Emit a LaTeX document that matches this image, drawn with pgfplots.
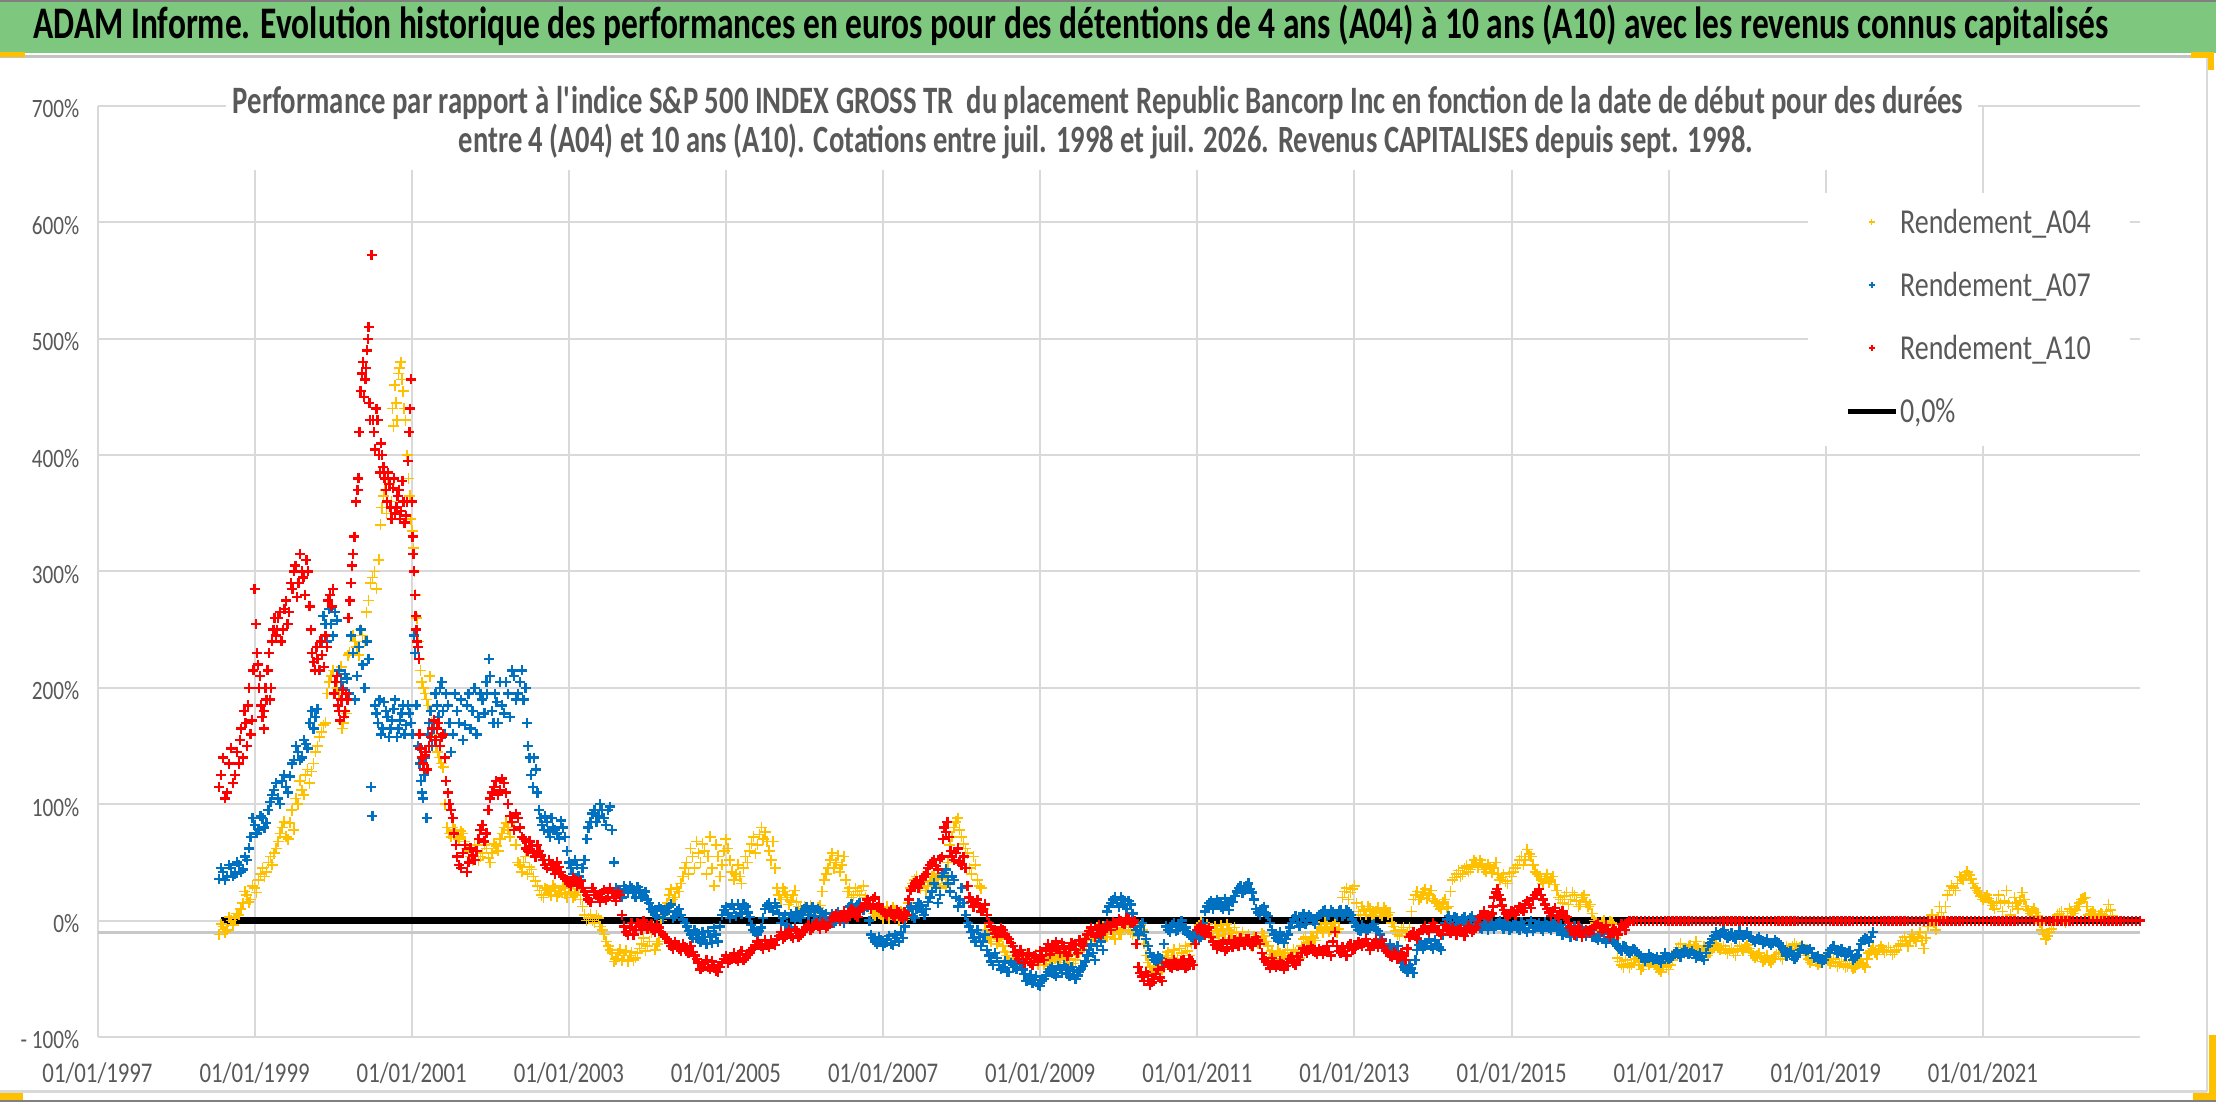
\documentclass[border=0pt]{standalone}
\usepackage{fontspec}
\setmainfont{Carlito}[FakeStretch=0.8]
\usepackage{pgfplots}
\pgfplotsset{compat=1.18}
\definecolor{tgray}{HTML}{595959}
\definecolor{gridc}{HTML}{D9D9D9}
\definecolor{hgreen}{HTML}{7DC87E}
\definecolor{cA04}{HTML}{FFC000}
\definecolor{cA07}{HTML}{0070C0}
\definecolor{cA10}{HTML}{FF0000}
\definecolor{hand}{HTML}{FFC000}
\pgfplotsset{
  markleg/.style={legend image code/.code={\draw[##1, mark size=3pt, mark options={line width=1.8pt}] plot coordinates {(24pt,3pt)};}},
  markleglight/.style={legend image code/.code={\draw[##1, mark size=3pt, mark options={line width=1.3pt}] plot coordinates {(24pt,3pt)};}},
  lineleg/.style={legend image code/.code={\draw[##1] (0pt,3pt) -- (48pt,3pt);}},
}
\begin{document}
\begin{tikzpicture}[x=1pt,y=1pt]
\useasboundingbox (0,0) rectangle (2216,1102);
\fill[white] (0,0) rectangle (2216,1102);
% header band
\fill[hgreen] (0,1049) rectangle (2216,1102);
\draw[gray, line width=2pt] (0,1101) -- (2216,1101);
\draw[gridc!90!black, line width=3pt] (0,1045) -- (2207,1045);
\draw[gridc, line width=2pt] (2207,1045) -- (2207,10);
\draw[gridc, line width=3pt] (0,10) -- (2207,10);
\draw[gray, line width=2pt] (0,1) -- (2216,1);
\node[anchor=base, inner sep=0pt] at (1071,1063) {\scalebox{1}[1.08]{\resizebox{2074pt}{!}{\bfseries ADAM Informe. Evolution historique des performances en euros pour des détentions de 4 ans (A04) à 10 ans (A10) avec les revenus connus capitalisés}}};
\begin{axis}[
  at={(97.5pt,65pt)}, anchor=south west,
  width=2042.5pt, height=931pt, scale only axis,
  xmin=1997, xmax=2023, ymin=-100, ymax=700,
  axis line style={draw=none},
  major tick length=0pt,
  scaled x ticks=false, scaled y ticks=false,
  xtick={1997,1999,2001,2003,2005,2007,2009,2011,2013,2015,2017,2019,2021},
  xticklabels={01/01/1997,01/01/1999,01/01/2001,01/01/2003,01/01/2005,01/01/2007,01/01/2009,01/01/2011,01/01/2013,01/01/2015,01/01/2017,01/01/2019,01/01/2021},
  ytick={-100,0,100,200,300,400,500,600,700},
  yticklabels={- 100\%,0\%,100\%,200\%,300\%,400\%,500\%,600\%,700\%},
  xmajorgrids, ymajorgrids,
  grid style={draw=gridc, line width=2pt},
  xticklabel style={font=\fontsize{28.5}{31}\selectfont, text=tgray, anchor=center, yshift=-36pt},
  yticklabel style={font=\fontsize{26.5}{29}\selectfont, text=tgray, anchor=east, inner sep=0pt, xshift=-18pt, yshift=-3pt},
  legend style={at={(0.8374,0.9066)}, anchor=north west, fill=white, draw=none,
    font=\fontsize{35}{40}\selectfont, text=tgray, inner xsep=37pt, inner ysep=14pt, row sep=27pt,
    nodes={inner sep=2pt, text height=24pt, text depth=8pt}},
  legend cell align=left,
]
\addplot[forget plot, draw={rgb,255:red,200;green,200;blue,200}, line width=2.5pt] coordinates {(1997,-10) (2023,-10)};
\addplot[forget plot, black, line width=6.5pt] coordinates {(1998.57,0) (2023,0)};
% A04
\addplot[only marks, mark=+, color=cA04, mark size=5.5pt, mark options={line width=1.6pt}, markleglight]
coordinates {
(1998.55,-12)(1998.60,-5)(1998.65,-8)(1998.70,0)(1998.75,2)(1998.80,5)(1998.85,15)(1998.90,22)(1998.95,18)(1999.00,28)
(1999.05,35)(1999.10,45)(1999.15,42)(1999.20,55)(1999.25,58)(1999.30,68)(1999.35,80)(1999.40,72)(1999.45,84)(1999.50,78)
(1999.55,100)(1999.60,112)(1999.65,125)(1999.70,118)(1999.75,135)(1999.80,150)(1999.85,162)(1999.90,170)(1999.95,205)(2000.00,215)
(2000.05,200)(2000.10,218)(2000.13,170)(2000.17,178)(2000.21,230)(2000.25,245)(2000.30,235)(2000.35,250)(2000.40,240)(2000.45,275)
(2000.50,295)(2000.55,285)(2000.58,310)(2000.62,355)(2000.66,370)(2000.70,380)(2000.74,360)(2000.77,425)(2000.80,445)(2000.83,470)
(2000.86,480)(2000.89,455)(2000.92,430)(2000.96,380)(2000.99,345)(2001.02,320)(2001.05,280)(2001.08,240)(2001.11,215)(2001.15,200)
(2001.19,190)(2001.23,210)(2001.27,165)(2001.31,150)(2001.35,140)(2001.40,132)(2001.45,80)(2001.50,72)(2001.55,78)(2001.60,70)
(2001.65,75)(2001.70,62)(2001.75,55)(2001.80,65)(2001.85,52)(2001.90,58)(2001.95,62)(2002.00,50)(2002.05,66)(2002.10,60)
(2002.15,75)(2002.20,84)(2002.25,72)(2002.30,80)(2002.35,50)(2002.40,42)(2002.45,55)(2002.50,46)(2002.55,38)(2002.60,30)
(2002.65,22)(2002.70,28)(2002.75,25)(2002.80,30)(2002.85,21)(2002.90,26)(2002.95,23)(2003.00,28)(2003.05,20)(2003.10,24)
(2003.15,18)(2003.20,5)(2003.25,2)(2003.30,0)(2003.35,4)(2003.40,-5)(2003.45,-12)(2003.50,-22)(2003.55,-28)(2003.60,-33)
(2003.65,-25)(2003.70,-30)(2003.75,-35)(2003.80,-27)(2003.85,-32)(2003.90,-24)(2003.95,-15)(2004.00,-22)(2004.05,-10)(2004.10,-25)
(2004.15,-18)(2004.20,5)(2004.25,15)(2004.30,27)(2004.35,20)(2004.40,25)(2004.45,38)(2004.50,50)(2004.55,62)(2004.60,45)
(2004.65,58)(2004.70,66)(2004.75,40)(2004.80,72)(2004.85,30)(2004.90,55)(2004.95,48)(2005.00,70)(2005.05,52)(2005.10,35)
(2005.15,48)(2005.20,32)(2005.25,55)(2005.30,60)(2005.35,72)(2005.40,65)(2005.45,80)(2005.50,76)(2005.55,60)(2005.60,68)
(2005.65,28)(2005.70,18)(2005.75,25)(2005.80,14)(2005.85,22)(2005.90,16)(2005.95,10)(2006.00,12)(2006.05,8)(2006.10,11)
(2006.15,7)(2006.20,13)(2006.25,35)(2006.30,45)(2006.35,58)(2006.40,50)(2006.45,42)(2006.50,55)(2006.55,25)(2006.60,20)
(2006.65,28)(2006.70,22)(2006.75,30)(2006.80,18)(2006.85,10)(2006.90,4)(2006.95,8)(2007.00,2)(2007.05,12)(2007.10,5)
(2007.15,9)(2007.20,0)(2007.25,6)(2007.30,3)(2007.35,28)(2007.40,35)(2007.45,30)(2007.50,38)(2007.55,26)(2007.60,34)
(2007.65,40)(2007.70,32)(2007.75,36)(2007.80,30)(2007.85,65)(2007.90,80)(2007.95,88)(2008.00,72)(2008.05,62)(2008.10,45)
(2008.15,55)(2008.20,35)(2008.25,28)(2008.30,-8)(2008.35,-15)(2008.40,-10)(2008.45,-20)(2008.50,-14)(2008.55,-27)(2008.60,-34)
(2008.65,-30)(2008.70,-38)(2008.75,-28)(2008.80,-35)(2008.85,-31)(2008.90,-37)(2008.95,-29)(2009.00,-34)(2009.05,-38)(2009.10,-30)
(2009.15,-35)(2009.20,-28)(2009.25,-36)(2009.30,-32)(2009.35,-38)(2009.40,-30)(2009.45,-34)(2009.50,-27)(2009.55,-20)(2009.60,-15)
(2009.65,-8)(2009.70,-18)(2009.75,-12)(2009.80,-5)(2009.85,-14)(2009.90,-8)(2009.95,-16)(2010.00,-10)(2010.05,-6)(2010.10,-2)
(2010.15,-10)(2010.20,-5)(2010.25,-13)(2010.30,-8)(2010.35,-30)(2010.40,-40)(2010.45,-45)(2010.50,-38)(2010.55,-42)(2010.60,-30)
(2010.65,-36)(2010.70,-25)(2010.75,-33)(2010.80,-28)(2010.85,-22)(2010.90,-30)(2010.95,-16)(2011.00,-8)(2011.05,-2)(2011.10,-12)
(2011.15,-6)(2011.20,-15)(2011.25,-9)(2011.30,-4)(2011.35,-12)(2011.40,-8)(2011.45,-15)(2011.50,-10)(2011.55,-14)(2011.60,-20)
(2011.65,-12)(2011.70,-22)(2011.75,-16)(2011.80,-19)(2011.85,-13)(2011.90,-22)(2011.95,-26)(2012.00,-33)(2012.05,-28)(2012.10,-31)
(2012.15,-25)(2012.20,-30)(2012.25,-27)(2012.30,-32)(2012.35,-16)(2012.40,-19)(2012.45,-14)(2012.50,-17)(2012.55,-5)(2012.60,-10)
(2012.65,-3)(2012.70,-8)(2012.75,-2)(2012.80,-7)(2012.85,20)(2012.90,28)(2012.95,24)(2013.00,30)(2013.05,8)(2013.10,12)
(2013.15,5)(2013.20,10)(2013.25,6)(2013.30,11)(2013.35,4)(2013.40,9)(2013.45,7)(2013.50,-5)(2013.55,-12)(2013.60,-8)
(2013.65,-13)(2013.70,-6)(2013.75,18)(2013.80,25)(2013.85,20)(2013.90,27)(2013.95,22)(2014.00,19)(2014.05,15)(2014.10,10)
(2014.15,18)(2014.20,12)(2014.25,35)(2014.30,40)(2014.35,38)(2014.40,45)(2014.45,42)(2014.50,48)(2014.55,50)(2014.60,52)
(2014.65,44)(2014.70,48)(2014.75,41)(2014.80,50)(2014.85,35)(2014.90,40)(2014.95,32)(2015.00,38)(2015.05,45)(2015.10,52)
(2015.15,48)(2015.20,61)(2015.25,55)(2015.30,42)(2015.35,38)(2015.40,32)(2015.45,40)(2015.50,35)(2015.55,31)(2015.60,20)
(2015.65,15)(2015.70,24)(2015.75,18)(2015.80,22)(2015.85,12)(2015.90,20)(2015.95,16)(2016.00,14)(2016.05,0)(2016.10,-4)
(2016.15,-2)(2016.20,-5)(2016.25,-1)(2016.30,-3)(2016.35,-32)(2016.40,-38)(2016.45,-34)(2016.50,-40)(2016.55,-36)(2016.60,-31)
(2016.65,-42)(2016.70,-35)(2016.75,-38)(2016.80,-33)(2016.85,-40)(2016.90,-44)(2016.95,-36)(2017.00,-42)(2017.05,-34)(2017.10,-26)
(2017.15,-20)(2017.20,-28)(2017.25,-22)(2017.30,-25)(2017.35,-18)(2017.40,-28)(2017.45,-22)(2017.50,-30)(2017.55,-24)(2017.60,-20)
(2017.65,-25)(2017.70,-22)(2017.75,-28)(2017.80,-24)(2017.85,-30)(2017.90,-22)(2017.95,-26)(2018.00,-21)(2018.05,-27)(2018.10,-32)
(2018.15,-28)(2018.20,-35)(2018.25,-30)(2018.30,-36)(2018.35,-31)(2018.40,-28)(2018.45,-33)(2018.50,-22)(2018.55,-25)(2018.60,-20)
(2018.65,-24)(2018.70,-21)(2018.75,-30)(2018.80,-36)(2018.85,-32)(2018.90,-38)(2018.95,-34)(2019.00,-31)(2019.05,-37)(2019.10,-33)
(2019.15,-39)(2019.20,-35)(2019.25,-40)(2019.30,-37)(2019.35,-41)(2019.40,-38)(2019.45,-36)(2019.50,-40)(2019.55,-28)(2019.60,-24)
(2019.65,-29)(2019.70,-22)(2019.75,-27)(2019.80,-23)(2019.85,-29)(2019.90,-25)(2019.95,-20)(2020.00,-14)(2020.05,-22)(2020.10,-12)
(2020.15,-18)(2020.20,-10)(2020.25,-24)(2020.30,-5)(2020.35,5)(2020.40,-8)(2020.45,12)(2020.50,2)(2020.55,22)(2020.60,30)
(2020.65,26)(2020.70,38)(2020.75,35)(2020.80,42)(2020.85,36)(2020.90,28)(2020.95,24)(2021.00,18)(2021.05,22)(2021.10,16)
(2021.15,10)(2021.20,22)(2021.25,8)(2021.30,26)(2021.35,5)(2021.40,20)(2021.45,10)(2021.50,24)(2021.55,12)(2021.60,6)
(2021.65,10)(2021.70,4)(2021.75,-8)(2021.80,-16)(2021.85,-10)(2021.90,-4)(2021.95,5)(2022.00,8)(2022.05,-2)(2022.10,10)
(2022.15,6)(2022.20,12)(2022.25,18)(2022.30,20)(2022.35,5)(2022.40,8)(2022.45,2)(2022.50,6)(2022.55,3)(2022.60,14)(2022.65,4)
(1998.575,-3)(1998.625,-10)(1998.675,3)(1998.725,-4)(1998.775,6)(1998.825,10)(1998.875,25)(1998.925,16)(1998.975,30)(1999.025,24)
(1999.075,40)(1999.125,38)(1999.175,50)(1999.225,48)(1999.275,62)(1999.325,75)(1999.375,85)(1999.425,70)(1999.475,95)(1999.525,105)
(1999.575,120)(1999.625,108)(1999.675,130)(1999.725,128)(1999.775,145)(1999.825,158)(1999.875,168)(1999.925,195)(1999.975,210)(2000.025,205)
(2000.075,195)(2000.115,165)(2000.19,228)(2000.275,240)(2000.325,228)(2000.375,245)(2000.425,265)(2000.475,290)(2000.525,300)(2000.60,340)
(2000.64,365)(2000.68,350)(2000.72,375)(2000.755,440)(2000.785,460)(2000.815,430)(2000.845,475)(2000.875,465)(2000.905,440)(2000.94,400)
(2000.975,365)(2001.005,335)(2001.035,300)(2001.065,260)(2001.095,225)(2001.13,205)(2001.17,195)(2001.21,185)(2001.25,170)(2001.29,160)
(2001.33,145)(2001.375,135)(2001.425,100)(2001.475,75)(2001.525,80)(2001.575,72)(2001.625,77)(2001.675,68)(2001.725,60)(2001.775,52)
(2001.825,60)(2001.875,55)(2001.925,65)(2001.975,54)(2002.025,58)(2002.075,64)(2002.125,70)(2002.175,80)(2002.225,78)(2002.275,85)
(2002.325,65)(2002.375,48)(2002.425,50)(2002.475,40)(2002.525,44)(2002.575,34)(2002.625,26)(2002.675,20)(2002.725,27)(2002.775,22)
(2002.825,28)(2002.875,24)(2002.925,30)(2002.975,20)(2003.025,25)(2003.075,22)(2003.125,27)(2003.175,12)(2003.225,0)(2003.275,5)
(2003.325,-2)(2003.375,2)(2003.425,-8)(2003.475,-18)(2003.525,-25)(2003.575,-35)(2003.625,-28)(2003.675,-34)(2003.725,-26)(2003.775,-30)
(2003.825,-34)(2003.875,-28)(2003.925,-20)(2003.975,-26)
(2004.025,-18)(2004.075,-5)(2004.125,-20)(2004.175,0)(2004.225,10)(2004.275,22)(2004.325,18)(2004.375,28)(2004.425,32)(2004.475,45)
(2004.525,40)(2004.575,55)(2004.625,68)(2004.675,50)(2004.725,60)(2004.775,55)(2004.825,45)(2004.875,65)(2004.925,38)(2004.975,60)
(2005.025,62)(2005.075,42)(2005.125,40)(2005.175,38)(2005.225,45)(2005.275,50)(2005.325,66)(2005.375,58)(2005.425,74)(2005.475,70)
(2005.525,68)(2005.575,52)(2005.625,45)(2005.675,22)(2005.725,28)(2005.775,20)(2005.825,17)(2005.875,26)(2005.925,12)(2005.975,8)
(2006.025,10)(2006.075,13)(2006.125,9)(2006.175,11)(2006.225,25)(2006.275,40)(2006.325,52)(2006.375,45)(2006.425,56)(2006.475,48)
(2006.525,35)(2006.575,28)(2006.625,22)(2006.675,25)(2006.725,26)(2006.775,20)(2006.825,14)(2006.875,6)(2006.925,10)(2006.975,5)
(2007.025,8)(2007.075,2)(2007.125,11)(2007.175,4)(2007.225,8)(2007.275,1)(2007.325,15)(2007.375,32)(2007.425,38)(2007.475,28)
(2007.525,33)(2007.575,30)(2007.625,38)(2007.675,36)(2007.725,28)(2007.775,40)(2007.825,50)(2007.875,72)(2007.925,85)(2007.975,78)
(2008.025,66)(2008.075,58)(2008.125,40)(2008.175,48)(2008.225,30)(2008.275,10)(2008.325,-12)(2008.375,-18)(2008.425,-12)(2008.475,-16)
(2008.525,-22)(2008.575,-30)(2008.625,-36)(2008.675,-33)(2008.725,-30)(2008.775,-37)(2008.825,-29)(2008.875,-35)(2008.925,-32)(2008.975,-38)
(2009.025,-30)(2009.075,-35)(2009.125,-37)(2009.175,-31)(2009.225,-34)(2009.275,-29)(2009.325,-36)(2009.375,-33)(2009.425,-37)(2009.475,-29)
(2009.525,-24)(2009.575,-17)(2009.625,-12)(2009.675,-14)(2009.725,-6)(2009.775,-16)(2009.825,-10)(2009.875,-5)(2009.925,-12)(2009.975,-7)
(2010.025,-12)(2010.075,-4)(2010.125,-8)(2010.175,-12)(2010.225,-9)(2010.275,-4)(2010.325,-20)(2010.375,-36)(2010.425,-43)(2010.475,-40)
(2010.525,-44)(2010.575,-34)(2010.625,-27)(2010.675,-32)(2010.725,-37)(2010.775,-24)(2010.825,-30)(2010.875,-26)(2010.925,-20)(2010.975,-12)
(2011.025,-4)(2011.075,-9)(2011.125,-3)(2011.175,-11)(2011.225,-5)(2011.275,-13)(2011.325,-7)(2011.375,-3)(2011.425,-11)(2011.475,-6)
(2011.525,-16)(2011.575,-10)(2011.625,-17)(2011.675,-21)(2011.725,-14)(2011.775,-20)(2011.825,-11)(2011.875,-18)(2011.925,-29)(2011.975,-31)
(2012.025,-26)(2012.075,-33)(2012.125,-28)(2012.175,-32)(2012.225,-25)(2012.275,-30)(2012.325,-22)(2012.375,-14)(2012.425,-18)(2012.475,-15)
(2012.525,-10)(2012.575,-7)(2012.625,-2)(2012.675,-9)(2012.725,-5)(2012.775,-10)(2012.825,8)(2012.875,25)(2012.925,18)(2012.975,27)
(2013.025,15)(2013.075,5)(2013.125,9)(2013.175,12)(2013.225,4)(2013.275,8)(2013.325,6)(2013.375,11)(2013.425,5)(2013.475,-2)
(2013.525,-9)(2013.575,-13)(2013.625,-6)(2013.675,-10)(2013.725,8)(2013.775,22)(2013.825,18)(2013.875,24)(2013.925,19)(2013.975,26)
(2014.025,17)(2014.075,12)(2014.125,16)(2014.175,11)(2014.225,25)(2014.275,37)(2014.325,43)(2014.375,40)(2014.425,47)(2014.475,44)
(2014.525,52)(2014.575,46)(2014.625,49)(2014.675,42)(2014.725,46)(2014.775,45)(2014.825,40)(2014.875,37)(2014.925,34)(2014.975,41)
(2015.025,42)(2015.075,48)(2015.125,55)(2015.175,52)(2015.225,57)(2015.275,48)(2015.325,40)(2015.375,35)(2015.425,36)(2015.475,33)
(2015.525,38)(2015.575,26)(2015.625,18)(2015.675,21)(2015.725,14)(2015.775,24)(2015.825,17)(2015.875,14)(2015.925,22)(2015.975,12)
(2016.025,6)(2016.075,-2)(2016.125,-5)(2016.175,0)(2016.225,-4)(2016.275,-2)(2016.325,-15)(2016.375,-35)(2016.425,-40)(2016.475,-37)
(2016.525,-38)(2016.575,-33)(2016.625,-38)(2016.675,-39)(2016.725,-33)(2016.775,-36)(2016.825,-37)(2016.875,-42)(2016.925,-39)(2016.975,-40)
(2017.025,-38)(2017.075,-30)(2017.125,-23)(2017.175,-25)(2017.225,-24)(2017.275,-21)(2017.325,-23)(2017.375,-24)(2017.425,-26)(2017.475,-25)
(2017.525,-27)(2017.575,-21)(2017.625,-23)(2017.675,-24)(2017.725,-25)(2017.775,-26)(2017.825,-27)(2017.875,-25)(2017.925,-24)(2017.975,-23)
(2018.025,-24)(2018.075,-30)(2018.125,-30)(2018.175,-32)(2018.225,-33)(2018.275,-34)(2018.325,-33)(2018.375,-29)(2018.425,-31)(2018.475,-27)
(2018.525,-24)(2018.575,-22)(2018.625,-22)(2018.675,-23)(2018.725,-26)(2018.775,-33)(2018.825,-34)(2018.875,-35)(2018.925,-36)(2018.975,-32)
(2019.025,-34)(2019.075,-35)(2019.125,-36)(2019.175,-37)(2019.225,-38)(2019.275,-39)(2019.325,-39)(2019.375,-40)(2019.425,-37)(2019.475,-38)
(2019.525,-33)(2019.575,-26)(2019.625,-27)(2019.675,-25)(2019.725,-25)(2019.775,-26)(2019.825,-26)(2019.875,-27)(2019.925,-22)(2019.975,-17)
(2020.025,-18)(2020.075,-17)(2020.125,-15)(2020.175,-14)(2020.225,-17)(2020.275,-15)(2020.325,0)(2020.375,-2)(2020.425,2)(2020.475,7)
(2020.525,12)(2020.575,26)(2020.625,28)(2020.675,32)(2020.725,37)(2020.775,39)(2020.825,39)(2020.875,32)(2020.925,26)(2020.975,21)
(2021.025,20)(2021.075,19)(2021.125,13)(2021.175,16)(2021.225,15)(2021.275,17)(2021.325,15)(2021.375,12)(2021.425,15)(2021.475,17)
(2021.525,18)(2021.575,9)(2021.625,8)(2021.675,7)(2021.725,-2)(2021.775,-12)(2021.825,-13)(2021.875,-7)(2021.925,0)(2021.975,6)
(2022.025,3)(2022.075,4)(2022.125,8)(2022.175,9)(2022.225,15)(2022.275,19)(2022.325,12)(2022.375,6)(2022.425,5)(2022.475,4)
(2022.525,5)(2022.575,8)(2022.625,9)
};
\addlegendentry{Rendement\_A04}
% A07
\addplot[only marks, mark=+, color=cA07, mark size=5pt, mark options={line width=2.4pt}, markleg]
coordinates {
(1998.55,36)(1998.60,42)(1998.65,38)(1998.70,45)(1998.75,40)(1998.80,48)(1998.85,44)(1998.90,52)(1998.95,72)(1999.00,82)
(1999.05,78)(1999.10,88)(1999.15,84)(1999.20,102)(1999.25,112)(1999.30,105)(1999.35,120)(1999.40,115)(1999.45,124)(1999.50,138)
(1999.55,145)(1999.60,140)(1999.65,152)(1999.70,170)(1999.75,165)(1999.80,182)(1999.85,240)(1999.90,255)(1999.95,268)(2000.00,245)
(2000.05,258)(2000.10,205)(2000.15,212)(2000.20,195)(2000.25,230)(2000.30,210)(2000.35,250)(2000.40,200)(2000.45,225)(2000.48,115)
(2000.50,90)(2000.53,185)(2000.57,170)(2000.61,160)(2000.65,188)(2000.69,175)(2000.73,165)(2000.77,182)(2000.81,158)(2000.85,172)
(2000.89,185)(2000.93,168)(2000.97,178)(2001.01,160)(2001.03,245)(2001.06,185)(2001.10,135)(2001.13,110)(2001.16,125)(2001.19,88)
(2001.22,170)(2001.26,150)(2001.30,195)(2001.34,175)(2001.38,205)(2001.42,160)(2001.46,185)(2001.50,145)(2001.55,195)(2001.60,170)
(2001.65,155)(2001.70,185)(2001.75,165)(2001.80,200)(2001.85,175)(2001.90,190)(2001.95,205)(2001.98,225)(2002.02,180)(2002.06,195)
(2002.10,170)(2002.15,185)(2002.20,205)(2002.25,175)(2002.30,210)(2002.35,195)(2002.40,215)(2002.45,200)(2002.48,150)(2002.52,125)
(2002.56,140)(2002.60,110)(2002.64,88)(2002.68,78)(2002.72,85)(2002.76,72)(2002.80,80)(2002.85,75)(2002.90,86)(2002.95,72)
(2003.00,50)(2003.05,40)(2003.10,48)(2003.15,35)(2003.20,52)(2003.25,80)(2003.30,92)(2003.35,85)(2003.40,100)(2003.45,88)
(2003.50,95)(2003.55,78)(2003.60,28)(2003.65,22)(2003.70,30)(2003.75,24)(2003.80,28)(2003.85,20)(2003.90,26)(2003.95,22)
(2004.00,18)(2004.05,10)(2004.10,5)(2004.15,12)(2004.20,2)(2004.25,8)(2004.30,14)(2004.35,4)(2004.40,10)(2004.45,1)
(2004.50,-5)(2004.55,-12)(2004.60,-8)(2004.65,-16)(2004.70,-10)(2004.75,-20)(2004.80,-14)(2004.85,-6)(2004.90,-18)(2004.95,5)
(2005.00,12)(2005.05,2)(2005.10,10)(2005.15,14)(2005.20,6)(2005.25,12)(2005.30,3)(2005.35,-8)(2005.40,-12)(2005.45,-6)
(2005.50,10)(2005.55,15)(2005.60,8)(2005.65,12)(2005.70,-2)(2005.75,5)(2005.80,-6)(2005.85,3)(2005.90,7)(2005.95,2)
(2006.00,10)(2006.05,5)(2006.10,12)(2006.15,0)(2006.20,8)(2006.25,3)(2006.30,-3)(2006.35,6)(2006.40,0)(2006.45,4)
(2006.50,-2)(2006.55,8)(2006.60,14)(2006.65,10)(2006.70,15)(2006.75,9)(2006.80,12)(2006.85,-12)(2006.90,-18)(2006.95,-14)
(2007.00,-22)(2007.05,-16)(2007.10,-20)(2007.15,-12)(2007.20,-18)(2007.25,-15)(2007.30,5)(2007.35,12)(2007.40,2)(2007.45,15)
(2007.50,8)(2007.55,10)(2007.60,20)(2007.65,32)(2007.70,15)(2007.75,38)(2007.80,44)(2007.85,25)(2007.90,35)(2007.95,12)
(2008.00,28)(2008.05,5)(2008.10,-5)(2008.15,-15)(2008.20,-8)(2008.25,-22)(2008.30,-12)(2008.35,-30)(2008.40,-38)(2008.45,-32)
(2008.50,-42)(2008.55,-35)(2008.60,-44)(2008.65,-38)(2008.70,-42)(2008.75,-36)(2008.80,-46)(2008.85,-50)(2008.90,-54)(2008.95,-48)
(2009.00,-56)(2009.05,-50)(2009.10,-44)(2009.15,-40)(2009.20,-48)(2009.25,-42)(2009.30,-38)(2009.35,-46)(2009.40,-40)(2009.45,-50)
(2009.50,-44)(2009.55,-39)(2009.60,-30)(2009.65,-20)(2009.70,-34)(2009.75,-15)(2009.80,-25)(2009.85,8)(2009.90,15)(2009.95,20)
(2010.00,12)(2010.05,18)(2010.10,10)(2010.15,14)(2010.20,-5)(2010.25,-12)(2010.30,-2)(2010.35,-16)(2010.40,-28)(2010.45,-34)
(2010.50,-30)(2010.55,-36)(2010.60,-5)(2010.65,-10)(2010.70,-2)(2010.75,-8)(2010.80,0)(2010.85,-6)(2010.90,-12)(2010.95,-16)
(2011.00,-10)(2011.05,-14)(2011.10,8)(2011.15,15)(2011.20,10)(2011.25,18)(2011.30,12)(2011.35,19)(2011.40,9)(2011.45,16)
(2011.50,25)(2011.55,30)(2011.60,26)(2011.65,32)(2011.70,24)(2011.75,10)(2011.80,5)(2011.85,12)(2011.90,4)(2011.95,-8)
(2012.00,-15)(2012.05,-10)(2012.10,-19)(2012.15,-12)(2012.20,-2)(2012.25,4)(2012.30,-5)(2012.35,6)(2012.40,0)(2012.45,3)
(2012.50,-3)(2012.55,5)(2012.60,8)(2012.65,4)(2012.70,9)(2012.75,6)(2012.80,8)(2012.85,4)(2012.90,9)(2012.95,5)
(2013.00,-2)(2013.05,-8)(2013.10,-4)(2013.15,-10)(2013.20,-6)(2013.25,-3)(2013.30,-9)(2013.35,-16)(2013.40,-24)(2013.45,-20)
(2013.50,-28)(2013.55,-22)(2013.60,-36)(2013.65,-42)(2013.70,-38)(2013.75,-45)(2013.80,-25)(2013.85,-18)(2013.90,-22)(2013.95,-16)
(2014.00,-24)(2014.05,-20)(2014.10,-25)(2014.15,-2)(2014.20,4)(2014.25,-5)(2014.30,2)(2014.35,-3)(2014.40,3)(2014.45,-4)
(2014.50,4)(2014.55,0)(2014.60,-6)(2014.65,-2)(2014.70,-8)(2014.75,-1)(2014.80,-5)(2014.85,0)(2014.90,-7)(2014.95,-3)
(2015.00,-6)(2015.05,-2)(2015.10,-8)(2015.15,-4)(2015.20,-10)(2015.25,0)(2015.30,-6)(2015.35,-2)(2015.40,-9)(2015.45,-4)
(2015.50,-8)(2015.55,-1)(2015.60,-6)(2015.65,-12)(2015.70,-8)(2015.75,-14)(2015.80,-5)(2015.85,-10)(2015.90,-7)(2015.95,-13)
(2016.00,-9)(2016.05,-12)(2016.10,-17)(2016.15,-10)(2016.20,-19)(2016.25,-14)(2016.30,-18)(2016.35,-22)(2016.40,-26)(2016.45,-23)
(2016.50,-28)(2016.55,-24)(2016.60,-27)(2016.65,-30)(2016.70,-35)(2016.75,-29)(2016.80,-34)(2016.85,-31)(2016.90,-36)(2016.95,-28)
(2017.00,-33)(2017.05,-30)(2017.10,-27)(2017.15,-31)(2017.20,-25)(2017.25,-29)(2017.30,-26)(2017.35,-32)(2017.40,-28)(2017.45,-34)
(2017.50,-22)(2017.55,-16)(2017.60,-10)(2017.65,-14)(2017.70,-8)(2017.75,-15)(2017.80,-11)(2017.85,-16)(2017.90,-9)(2017.95,-14)
(2018.00,-10)(2018.05,-15)(2018.10,-18)(2018.15,-14)(2018.20,-20)(2018.25,-16)(2018.30,-21)(2018.35,-17)(2018.40,-19)(2018.45,-24)
(2018.50,-30)(2018.55,-26)(2018.60,-33)(2018.65,-28)(2018.70,-22)(2018.75,-26)(2018.80,-24)(2018.85,-32)(2018.90,-30)(2018.95,-36)
(2019.00,-31)(2019.05,-25)(2019.10,-22)(2019.15,-28)(2019.20,-24)(2019.25,-30)(2019.30,-26)(2019.35,-34)(2019.40,-30)(2019.45,-20)
(2019.50,-15)(2019.55,-18)(2019.60,-10)
(1998.575,45)(1998.625,35)(1998.675,48)(1998.725,38)(1998.775,50)(1998.825,42)(1998.875,55)(1998.925,62)(1998.975,88)(1999.025,75)
(1999.075,90)(1999.125,80)(1999.175,95)(1999.225,108)(1999.275,118)(1999.325,100)(1999.375,125)(1999.425,110)(1999.475,135)(1999.525,150)
(1999.575,138)(1999.625,155)(1999.675,148)(1999.725,180)(1999.775,175)(1999.825,215)(1999.875,262)(1999.925,240)(1999.975,255)(2000.025,265)
(2000.075,215)(2000.125,200)(2000.175,208)(2000.225,245)(2000.275,190)(2000.325,235)(2000.375,220)(2000.425,240)(2000.55,178)(2000.59,190)
(2000.63,165)(2000.67,180)(2000.71,158)(2000.75,172)(2000.79,190)(2000.83,165)(2000.87,178)(2000.91,160)(2000.95,185)(2000.99,170)
(2001.045,230)(2001.08,150)(2001.115,120)(2001.145,105)(2001.175,140)(2001.205,160)(2001.24,180)(2001.28,165)(2001.32,185)(2001.36,200)
(2001.40,180)(2001.44,195)(2001.48,170)(2001.525,160)(2001.575,180)(2001.625,190)(2001.675,168)(2001.725,195)(2001.775,180)(2001.825,160)
(2001.875,195)(2001.925,178)(2001.96,195)(2002.00,210)(2002.04,170)(2002.08,188)(2002.125,205)(2002.175,178)(2002.225,195)(2002.275,215)
(2002.325,190)(2002.375,205)(2002.425,190)(2002.465,170)(2002.50,140)(2002.54,115)(2002.58,130)(2002.62,95)(2002.66,82)(2002.70,90)
(2002.74,76)(2002.78,88)(2002.825,78)(2002.875,70)(2002.925,80)(2002.975,60)(2003.025,45)(2003.075,52)(2003.125,38)(2003.175,45)
(2003.225,70)(2003.275,85)(2003.325,95)(2003.375,90)(2003.425,95)(2003.475,82)(2003.525,98)(2003.575,50)(2003.625,26)(2003.675,20)
(2003.725,27)(2003.775,30)(2003.825,24)(2003.875,29)(2003.925,20)(2003.975,25)
(2004.025,15)(2004.075,8)(2004.125,3)(2004.175,10)(2004.225,6)(2004.275,12)(2004.325,2)(2004.375,8)(2004.425,5)(2004.475,-2)
(2004.525,-9)(2004.575,-15)(2004.625,-11)(2004.675,-18)(2004.725,-14)(2004.775,-9)(2004.825,-19)(2004.875,-12)(2004.925,-5)(2004.975,9)
(2005.025,6)(2005.075,14)(2005.125,4)(2005.175,10)(2005.225,14)(2005.275,7)(2005.325,-4)(2005.375,-10)(2005.425,-9)(2005.475,2)
(2005.525,13)(2005.575,11)(2005.625,15)(2005.675,6)(2005.725,2)(2005.775,-4)(2005.825,6)(2005.875,0)(2005.925,4)(2005.975,8)
(2006.025,12)(2006.075,8)(2006.125,4)(2006.175,10)(2006.225,1)(2006.275,6)(2006.325,3)(2006.375,-2)(2006.425,7)(2006.475,1)
(2006.525,4)(2006.575,12)(2006.625,8)(2006.675,13)(2006.725,11)(2006.775,15)(2006.825,0)(2006.875,-15)(2006.925,-20)(2006.975,-17)
(2007.025,-19)(2007.075,-13)(2007.125,-21)(2007.175,-15)(2007.225,-10)(2007.275,-5)(2007.325,9)(2007.375,4)(2007.425,10)(2007.475,13)
(2007.525,5)(2007.575,16)(2007.625,25)(2007.675,28)(2007.725,22)(2007.775,41)(2007.825,32)(2007.875,38)(2007.925,20)(2007.975,18)
(2008.025,15)(2008.075,-2)(2008.125,-10)(2008.175,-18)(2008.225,-14)(2008.275,-18)(2008.325,-25)(2008.375,-35)(2008.425,-28)(2008.475,-38)
(2008.525,-40)(2008.575,-44)(2008.625,-36)(2008.675,-40)(2008.725,-34)(2008.775,-42)(2008.825,-52)(2008.875,-47)(2008.925,-51)(2008.975,-55)
(2009.025,-52)(2009.075,-47)(2009.125,-42)(2009.175,-46)(2009.225,-39)(2009.275,-45)(2009.325,-41)(2009.375,-48)(2009.425,-43)(2009.475,-47)
(2009.525,-41)(2009.575,-35)(2009.625,-25)(2009.675,-28)(2009.725,-22)(2009.775,-18)(2009.825,-5)(2009.875,12)(2009.925,18)(2009.975,15)
(2010.025,20)(2010.075,14)(2010.125,17)(2010.175,6)(2010.225,-8)(2010.275,-5)(2010.325,-10)(2010.375,-22)(2010.425,-31)(2010.475,-35)
(2010.525,-32)(2010.575,-20)(2010.625,-8)(2010.675,-4)(2010.725,-9)(2010.775,-3)(2010.825,-8)(2010.875,-10)(2010.925,-14)(2010.975,-12)
(2011.025,-16)(2011.075,-2)(2011.125,12)(2011.175,17)(2011.225,13)(2011.275,16)(2011.325,10)(2011.375,14)(2011.425,18)(2011.475,21)
(2011.525,28)(2011.575,24)(2011.625,30)(2011.675,27)(2011.725,18)(2011.775,7)(2011.825,10)(2011.875,6)(2011.925,-2)(2011.975,-12)
(2012.025,-17)(2012.075,-13)(2012.125,-16)(2012.175,-6)(2012.225,1)(2012.275,-2)(2012.325,3)(2012.375,-3)(2012.425,5)(2012.475,0)
(2012.525,2)(2012.575,6)(2012.625,9)(2012.675,5)(2012.725,7)(2012.775,4)(2012.825,9)(2012.875,6)(2012.925,7)(2012.975,1)
(2013.025,-5)(2013.075,-9)(2013.125,-6)(2013.175,-8)(2013.225,-4)(2013.275,-7)(2013.325,-12)(2013.375,-20)(2013.425,-27)(2013.475,-24)
(2013.525,-26)(2013.575,-32)(2013.625,-40)(2013.675,-44)(2013.725,-41)(2013.775,-34)(2013.825,-21)(2013.875,-24)(2013.925,-19)(2013.975,-22)
(2014.025,-17)(2014.075,-23)(2014.125,-12)(2014.175,1)(2014.225,-3)(2014.275,3)(2014.325,-4)(2014.375,1)(2014.425,-1)(2014.475,2)
(2014.525,-3)(2014.575,-4)(2014.625,-7)(2014.675,-4)(2014.725,-3)(2014.775,-7)(2014.825,-2)(2014.875,-5)(2014.925,-1)(2014.975,-8)
(2015.025,-4)(2015.075,-6)(2015.125,-1)(2015.175,-7)(2015.225,-4)(2015.275,-9)(2015.325,-4)(2015.375,-7)(2015.425,-1)(2015.475,-6)
(2015.525,-3)(2015.575,-9)(2015.625,-4)(2015.675,-10)(2015.725,-11)(2015.775,-8)(2015.825,-13)(2015.875,-6)(2015.925,-11)(2015.975,-10)
(2016.025,-14)(2016.075,-15)(2016.125,-12)(2016.175,-16)(2016.225,-11)(2016.275,-17)(2016.325,-20)(2016.375,-24)(2016.425,-22)(2016.475,-26)
(2016.525,-26)(2016.575,-25)(2016.625,-29)(2016.675,-32)(2016.725,-32)(2016.775,-31)(2016.825,-33)(2016.875,-34)(2016.925,-32)(2016.975,-31)
(2017.025,-32)(2017.075,-29)(2017.125,-29)(2017.175,-28)(2017.225,-27)(2017.275,-28)(2017.325,-29)(2017.375,-30)(2017.425,-31)(2017.475,-28)
(2017.525,-19)(2017.575,-13)(2017.625,-12)(2017.675,-11)(2017.725,-12)(2017.775,-13)(2017.825,-14)(2017.875,-12)(2017.925,-12)(2017.975,-12)
(2018.025,-13)(2018.075,-17)(2018.125,-16)(2018.175,-17)(2018.225,-18)(2018.275,-19)(2018.325,-19)(2018.375,-18)(2018.425,-22)(2018.475,-27)
(2018.525,-28)(2018.575,-30)(2018.625,-31)(2018.675,-25)(2018.725,-24)(2018.775,-25)(2018.825,-28)(2018.875,-31)(2018.925,-33)(2018.975,-34)
(2019.025,-28)(2019.075,-24)(2019.125,-25)(2019.175,-26)(2019.225,-27)(2019.275,-28)(2019.325,-30)(2019.375,-32)(2019.425,-25)(2019.475,-17)
(2019.525,-16)(2019.575,-14)
};
\addlegendentry{Rendement\_A07}
% A10
\addplot[only marks, mark=+, color=cA10, mark size=5pt, mark options={line width=2.4pt}, markleg]
coordinates {
(1998.55,115)(1998.60,140)(1998.65,110)(1998.70,148)(1998.75,125)(1998.80,135)(1998.83,165)(1998.87,180)(1998.90,150)(1998.93,200)
(1998.97,172)(1999.00,285)(1999.02,255)(1999.04,220)(1999.07,210)(1999.10,175)(1999.12,165)(1999.15,190)(1999.18,230)(1999.21,200)
(1999.24,250)(1999.27,245)(1999.30,260)(1999.34,240)(1999.38,268)(1999.42,255)(1999.46,290)(1999.50,300)(1999.54,278)(1999.58,315)
(1999.62,295)(1999.66,310)(1999.70,270)(1999.73,230)(1999.77,215)(1999.80,225)(1999.84,240)(1999.88,218)(1999.92,235)(1999.96,280)
(2000.00,285)(2000.03,205)(2000.06,185)(2000.09,172)(2000.12,198)(2000.15,180)(2000.18,190)(2000.21,275)(2000.24,305)(2000.27,330)
(2000.29,360)(2000.32,380)(2000.35,455)(2000.38,480)(2000.41,465)(2000.43,490)(2000.45,510)(2000.47,430)(2000.49,572)(2000.52,420)
(2000.55,440)(2000.58,400)(2000.61,410)(2000.64,390)(2000.67,370)(2000.70,385)(2000.73,355)(2000.76,372)(2000.79,350)(2000.82,365)
(2000.85,345)(2000.88,378)(2000.91,342)(2000.94,360)(2000.97,420)(2000.99,465)(2001.01,330)(2001.03,300)(2001.05,262)(2001.07,240)
(2001.09,225)(2001.11,148)(2001.14,135)(2001.17,142)(2001.20,130)(2001.24,158)(2001.28,172)(2001.32,165)(2001.36,150)(2001.40,160)
(2001.44,120)(2001.48,100)(2001.52,88)(2001.56,65)(2001.60,48)(2001.65,58)(2001.70,42)(2001.75,62)(2001.80,52)(2001.85,70)
(2001.90,82)(2001.95,75)(2002.00,105)(2002.05,115)(2002.10,108)(2002.15,122)(2002.20,110)(2002.25,90)(2002.30,78)(2002.35,88)
(2002.40,72)(2002.45,62)(2002.50,68)(2002.55,58)(2002.60,65)(2002.65,56)(2002.70,48)(2002.75,52)(2002.80,44)(2002.85,50)
(2002.90,42)(2002.95,36)(2003.00,32)(2003.05,37)(2003.10,30)(2003.15,34)(2003.20,25)(2003.25,18)(2003.30,28)(2003.35,22)
(2003.40,16)(2003.45,26)(2003.50,20)(2003.55,24)(2003.60,17)(2003.65,22)(2003.70,-5)(2003.75,-12)(2003.80,-2)(2003.85,-8)
(2003.90,-4)(2003.95,0)(2004.00,-7)(2004.05,-3)(2004.10,-10)(2004.15,-6)(2004.20,-12)(2004.25,-16)(2004.30,-22)(2004.35,-18)
(2004.40,-24)(2004.45,-20)(2004.50,-26)(2004.55,-22)(2004.60,-30)(2004.65,-36)(2004.70,-40)(2004.75,-34)(2004.80,-42)(2004.85,-38)
(2004.90,-44)(2004.95,-36)(2005.00,-30)(2005.05,-34)(2005.10,-28)(2005.15,-35)(2005.20,-26)(2005.25,-32)(2005.30,-27)(2005.35,-24)
(2005.40,-18)(2005.45,-22)(2005.50,-17)(2005.55,-23)(2005.60,-19)(2005.65,-16)(2005.70,-10)(2005.75,-14)(2005.80,-8)(2005.85,-15)
(2005.90,-9)(2005.95,-12)(2006.00,-8)(2006.05,-4)(2006.10,-6)(2006.15,-2)(2006.20,-7)(2006.25,-3)(2006.30,-5)(2006.35,2)
(2006.40,6)(2006.45,0)(2006.50,8)(2006.55,3)(2006.60,10)(2006.65,5)(2006.70,9)(2006.75,12)(2006.80,18)(2006.85,10)
(2006.90,20)(2006.95,14)(2007.00,8)(2007.05,4)(2007.10,9)(2007.15,2)(2007.20,7)(2007.25,1)(2007.30,5)(2007.35,26)
(2007.40,32)(2007.45,28)(2007.50,35)(2007.55,40)(2007.60,48)(2007.65,52)(2007.70,44)(2007.75,55)(2007.78,80)(2007.82,85)
(2007.86,60)(2007.90,52)(2007.95,62)(2008.00,48)(2008.05,45)(2008.10,20)(2008.15,12)(2008.20,18)(2008.25,8)(2008.30,14)
(2008.35,-2)(2008.40,-8)(2008.45,-14)(2008.50,-6)(2008.55,-12)(2008.60,-16)(2008.65,-22)(2008.70,-30)(2008.75,-25)(2008.80,-36)
(2008.85,-28)(2008.90,-38)(2008.95,-32)(2009.00,-26)(2009.05,-34)(2009.10,-20)(2009.15,-26)(2009.20,-18)(2009.25,-28)(2009.30,-22)
(2009.35,-30)(2009.40,-19)(2009.45,-25)(2009.50,-17)(2009.55,-22)(2009.60,-12)(2009.65,-6)(2009.70,-14)(2009.75,-4)(2009.80,-10)
(2009.85,-3)(2009.90,-8)(2009.95,-2)(2010.00,1)(2010.05,-2)(2010.10,2)(2010.15,-1)(2010.20,0)(2010.25,-40)(2010.30,-48)
(2010.35,-44)(2010.40,-55)(2010.45,-50)(2010.50,-42)(2010.55,-52)(2010.60,-36)(2010.65,-40)(2010.70,-34)(2010.75,-39)(2010.80,-35)
(2010.85,-41)(2010.90,-33)(2010.95,-38)(2011.00,-8)(2011.05,-4)(2011.10,-12)(2011.15,-6)(2011.20,-18)(2011.25,-24)(2011.30,-20)
(2011.35,-26)(2011.40,-17)(2011.45,-23)(2011.50,-19)(2011.55,-15)(2011.60,-21)(2011.65,-16)(2011.70,-22)(2011.75,-14)(2011.80,-20)
(2011.85,-33)(2011.90,-38)(2011.95,-32)(2012.00,-40)(2012.05,-35)(2012.10,-42)(2012.15,-36)(2012.20,-31)(2012.25,-38)(2012.30,-34)
(2012.35,-24)(2012.40,-28)(2012.45,-22)(2012.50,-27)(2012.55,-24)(2012.60,-29)(2012.65,-22)(2012.70,-30)(2012.75,-10)(2012.80,-26)
(2012.85,-23)(2012.90,-30)(2012.95,-20)(2013.00,-24)(2013.05,-18)(2013.10,-22)(2013.15,-16)(2013.20,-25)(2013.25,-19)(2013.30,-23)
(2013.35,-17)(2013.40,-26)(2013.45,-30)(2013.50,-27)(2013.55,-33)(2013.60,-28)(2013.65,-34)(2013.70,-14)(2013.75,-10)(2013.80,-16)
(2013.85,-8)(2013.90,-5)(2013.95,-10)(2014.00,-2)(2014.05,-8)(2014.10,-12)(2014.15,-4)(2014.20,-9)(2014.25,-6)(2014.30,-12)
(2014.35,-7)(2014.40,-13)(2014.45,-5)(2014.50,-10)(2014.55,-6)(2014.60,3)(2014.65,8)(2014.70,2)(2014.75,6)(2014.78,20)
(2014.82,27)(2014.86,18)(2014.90,9)(2014.95,4)(2015.00,8)(2015.05,5)(2015.10,12)(2015.15,8)(2015.20,17)(2015.25,11)
(2015.30,22)(2015.35,27)(2015.40,18)(2015.45,10)(2015.50,4)(2015.55,11)(2015.60,2)(2015.65,8)(2015.70,3)(2015.75,-6)
(2015.80,-12)(2015.85,-5)(2015.90,-14)(2015.95,-8)(2016.00,-11)(2016.05,-5)(2016.10,-2)(2016.15,-10)(2016.20,-4)(2016.25,-14)
(2016.30,-7)(2016.35,-12)(2016.40,-3)(2016.45,-8)
(2016.50,0)(2016.55,0)(2016.60,0)(2016.65,0)(2016.70,0)(2016.75,0)(2016.80,0)(2016.85,0)(2016.90,0)(2016.95,0)
(2017.00,0)(2017.05,0)(2017.10,0)(2017.15,0)(2017.20,0)(2017.25,0)(2017.30,0)(2017.35,0)(2017.40,0)(2017.45,0)
(2017.50,0)(2017.55,0)(2017.60,0)(2017.65,0)(2017.70,0)(2017.75,0)(2017.80,0)(2017.85,0)(2017.90,0)(2017.95,0)
(2018.00,0)(2018.05,0)(2018.10,0)(2018.15,0)(2018.20,0)(2018.25,0)(2018.30,0)(2018.35,0)(2018.40,0)(2018.45,0)
(2018.50,0)(2018.55,0)(2018.60,0)(2018.65,0)(2018.70,0)(2018.75,0)(2018.80,0)(2018.85,0)(2018.90,0)(2018.95,0)
(2019.00,0)(2019.05,0)(2019.10,0)(2019.15,0)(2019.20,0)(2019.25,0)(2019.30,0)(2019.35,0)(2019.40,0)(2019.45,0)
(2019.50,0)(2019.55,0)(2019.60,0)(2019.65,0)(2019.70,0)(2019.75,0)(2019.80,0)(2019.85,0)(2019.90,0)(2019.95,0)
(2020.00,0)(2020.05,0)(2020.10,0)(2020.15,0)(2020.20,0)(2020.25,0)(2020.30,0)(2020.35,0)(2020.40,0)(2020.45,0)
(2020.50,0)(2020.55,0)(2020.60,0)(2020.65,0)(2020.70,0)(2020.75,0)(2020.80,0)(2020.85,0)(2020.90,0)(2020.95,0)
(2021.00,0)(2021.05,0)(2021.10,0)(2021.15,0)(2021.20,0)(2021.25,0)(2021.30,0)(2021.35,0)(2021.40,0)(2021.45,0)
(2021.50,0)(2021.55,0)(2021.60,0)(2021.65,0)(2021.70,0)(2021.75,0)(2021.80,0)(2021.85,0)(2021.90,0)(2021.95,0)
(2022.00,0)(2022.05,0)(2022.10,0)(2022.15,0)(2022.20,0)(2022.25,0)(2022.30,0)(2022.35,0)(2022.40,0)(2022.45,0)
(2022.50,0)(2022.55,0)(2022.60,0)(2022.65,0)(2022.70,0)(2022.75,0)(2022.80,0)(2022.85,0)(2022.90,0)(2022.95,0)(2023.00,0)
(1998.575,125)(1998.625,105)(1998.675,135)(1998.725,118)(1998.775,145)(1998.815,155)(1998.85,140)(1998.885,170)(1998.915,185)(1998.95,160)
(1998.985,215)(1999.03,230)(1999.055,200)(1999.085,185)(1999.115,180)(1999.14,200)(1999.165,215)(1999.195,190)(1999.225,240)(1999.255,260)
(1999.285,250)(1999.32,265)(1999.36,250)(1999.40,275)(1999.44,265)(1999.48,285)(1999.52,305)(1999.56,290)(1999.60,300)(1999.64,280)
(1999.68,300)(1999.715,250)(1999.75,222)(1999.79,235)(1999.82,215)(1999.86,228)(1999.90,245)(1999.94,275)(1999.98,270)(2000.015,195)
(2000.045,210)(2000.075,180)(2000.105,190)(2000.135,175)(2000.165,195)(2000.195,260)(2000.225,290)(2000.255,315)(2000.31,370)(2000.335,420)
(2000.365,470)(2000.395,450)(2000.42,475)(2000.44,500)(2000.46,445)(2000.505,430)(2000.535,405)(2000.565,430)(2000.595,385)(2000.625,400)
(2000.655,380)(2000.685,360)(2000.715,375)(2000.745,345)(2000.775,380)(2000.805,355)(2000.835,370)(2000.865,352)(2000.895,360)(2000.925,348)
(2000.955,395)(2000.98,440)(2001.00,360)(2001.02,315)(2001.04,280)(2001.06,250)(2001.08,235)(2001.10,160)(2001.125,140)(2001.155,130)
(2001.185,145)(2001.22,150)(2001.26,165)(2001.30,155)(2001.34,170)(2001.38,158)(2001.42,140)(2001.46,110)(2001.50,95)(2001.54,75)
(2001.58,55)(2001.625,45)(2001.675,65)(2001.725,50)(2001.775,56)(2001.825,60)(2001.875,78)(2001.925,68)(2001.975,95)(2002.025,110)
(2002.075,120)(2002.125,112)(2002.175,118)(2002.225,100)(2002.275,85)(2002.325,92)(2002.375,80)(2002.425,70)(2002.475,60)(2002.525,64)
(2002.575,55)(2002.625,60)(2002.675,52)(2002.725,45)(2002.775,48)(2002.825,40)(2002.875,46)(2002.925,38)(2002.975,34)(2003.025,30)
(2003.075,35)(2003.125,32)(2003.175,28)(2003.225,22)(2003.275,16)(2003.325,25)(2003.375,20)(2003.425,24)(2003.475,18)(2003.525,28)
(2003.575,20)(2003.625,25)(2003.675,5)(2003.725,-10)(2003.775,-6)(2003.825,-12)(2003.875,-2)(2003.925,-8)(2003.975,-5)
(2004.025,-5)(2004.075,-8)(2004.125,-4)(2004.175,-10)(2004.225,-14)(2004.275,-19)(2004.325,-24)(2004.375,-21)(2004.425,-26)(2004.475,-23)
(2004.525,-28)(2004.575,-27)(2004.625,-33)(2004.675,-42)(2004.725,-37)(2004.775,-40)(2004.825,-35)(2004.875,-43)(2004.925,-40)(2004.975,-33)
(2005.025,-36)(2005.075,-31)(2005.125,-33)(2005.175,-29)(2005.225,-34)(2005.275,-29)(2005.325,-25)(2005.375,-21)(2005.425,-20)(2005.475,-24)
(2005.525,-20)(2005.575,-17)(2005.625,-21)(2005.675,-13)(2005.725,-16)(2005.775,-11)(2005.825,-13)(2005.875,-7)(2005.925,-14)(2005.975,-10)
(2006.025,-6)(2006.075,-8)(2006.125,-4)(2006.175,-5)(2006.225,-1)(2006.275,-6)(2006.325,-1)(2006.375,4)(2006.425,3)(2006.475,5)
(2006.525,1)(2006.575,7)(2006.625,8)(2006.675,3)(2006.725,11)(2006.775,15)(2006.825,14)(2006.875,19)(2006.925,12)(2006.975,10)
(2007.025,6)(2007.075,7)(2007.125,4)(2007.175,9)(2007.225,3)(2007.275,7)(2007.325,18)(2007.375,30)(2007.425,34)(2007.475,32)
(2007.525,38)(2007.575,45)(2007.625,50)(2007.675,47)(2007.725,53)(2007.765,70)(2007.80,76)(2007.84,72)(2007.88,55)(2007.925,58)
(2007.975,50)(2008.025,55)(2008.075,30)(2008.125,16)(2008.175,15)(2008.225,12)(2008.275,10)(2008.325,5)(2008.375,-5)(2008.425,-11)
(2008.475,-10)(2008.525,-8)(2008.575,-14)(2008.625,-19)(2008.675,-27)(2008.725,-33)(2008.775,-29)(2008.825,-33)(2008.875,-36)(2008.925,-30)
(2008.975,-35)(2009.025,-30)(2009.075,-24)(2009.125,-29)(2009.175,-22)(2009.225,-24)(2009.275,-19)(2009.325,-27)(2009.375,-24)(2009.425,-21)
(2009.475,-28)(2009.525,-20)(2009.575,-16)(2009.625,-9)(2009.675,-11)(2009.725,-8)(2009.775,-12)(2009.825,-6)(2009.875,-5)(2009.925,-1)
(2009.975,-4)(2010.025,0)(2010.075,-3)(2010.125,1)(2010.175,-2)(2010.225,-20)(2010.275,-45)(2010.325,-52)(2010.375,-47)(2010.425,-53)
(2010.475,-46)(2010.525,-49)(2010.575,-40)(2010.625,-37)(2010.675,-41)(2010.725,-36)(2010.775,-38)(2010.825,-34)(2010.875,-39)(2010.925,-35)
(2010.975,-20)(2011.025,-6)(2011.075,-10)(2011.125,-8)(2011.175,-14)(2011.225,-21)(2011.275,-22)(2011.325,-18)(2011.375,-24)(2011.425,-20)
(2011.475,-17)(2011.525,-22)(2011.575,-18)(2011.625,-16)(2011.675,-20)(2011.725,-18)(2011.775,-17)(2011.825,-28)(2011.875,-35)(2011.925,-41)
(2011.975,-36)(2012.025,-38)(2012.075,-37)(2012.125,-39)(2012.175,-33)(2012.225,-36)(2012.275,-31)(2012.325,-28)(2012.375,-26)(2012.425,-25)
(2012.475,-24)(2012.525,-29)(2012.575,-26)(2012.625,-25)(2012.675,-27)(2012.725,-18)(2012.775,-22)(2012.825,-28)(2012.875,-26)(2012.925,-22)
(2012.975,-25)(2013.025,-21)(2013.075,-20)(2013.125,-19)(2013.175,-21)(2013.225,-22)(2013.275,-17)(2013.325,-20)(2013.375,-22)(2013.425,-28)
(2013.475,-31)(2013.525,-29)(2013.575,-31)(2013.625,-30)(2013.675,-24)(2013.725,-12)(2013.775,-13)(2013.825,-11)(2013.875,-7)(2013.925,-8)
(2013.975,-6)(2014.025,-5)(2014.075,-10)(2014.125,-8)(2014.175,-6)(2014.225,-11)(2014.275,-9)(2014.325,-8)(2014.375,-10)(2014.425,-9)
(2014.475,-7)(2014.525,-8)(2014.575,-1)(2014.625,5)(2014.675,5)(2014.725,4)(2014.765,12)(2014.80,24)(2014.84,22)(2014.88,13)
(2014.925,6)(2014.975,6)(2015.025,7)(2015.075,9)(2015.125,10)(2015.175,14)(2015.225,14)(2015.275,19)(2015.325,24)(2015.375,22)
(2015.425,14)(2015.475,7)(2015.525,8)(2015.575,5)(2015.625,6)(2015.675,4)(2015.725,-2)(2015.775,-9)(2015.825,-8)(2015.875,-10)
(2015.925,-11)(2015.975,-9)(2016.025,-8)(2016.075,-4)(2016.125,-6)(2016.175,-7)(2016.225,-9)(2016.275,-10)(2016.325,-9)(2016.375,-7)
(2016.425,-5)(2016.475,-2)
};
\addlegendentry{Rendement\_A10}
\addlegendimage{black, line width=5pt, lineleg}
\addlegendentry{0,0\%}
\end{axis}
% white box of the chart title
\fill[white] (226,932) rectangle (1978,1010);
\node[anchor=base, inner sep=0pt, text=tgray] at (1098,988) {\scalebox{1}[1.08]{\resizebox{1730pt}{!}{\bfseries Performance par rapport à l\textquotesingle indice S\&P 500 INDEX GROSS TR\ \ du placement Republic Bancorp Inc en fonction de la date de début pour des durées}}};
\node[anchor=base, inner sep=0pt, text=tgray] at (1106,949) {\scalebox{1}[1.08]{\resizebox{1294pt}{!}{\bfseries entre 4 (A04) et 10 ans (A10). Cotations entre juil. 1998 et juil. 2026. Revenus CAPITALISES depuis sept. 1998.}}};
% selection handles
\fill[hand] (0,1045) rectangle (25,1050);
\fill[hand] (2191,1044) rectangle (2214,1050);
\fill[hand] (2208,1032) rectangle (2214,1050);
\fill[hand] (0,2) rectangle (23,9);
\fill[hand] (2209,2) rectangle (2216,67);
\fill[hand] (2193,2) rectangle (2216,9);
\end{tikzpicture}
\end{document}
